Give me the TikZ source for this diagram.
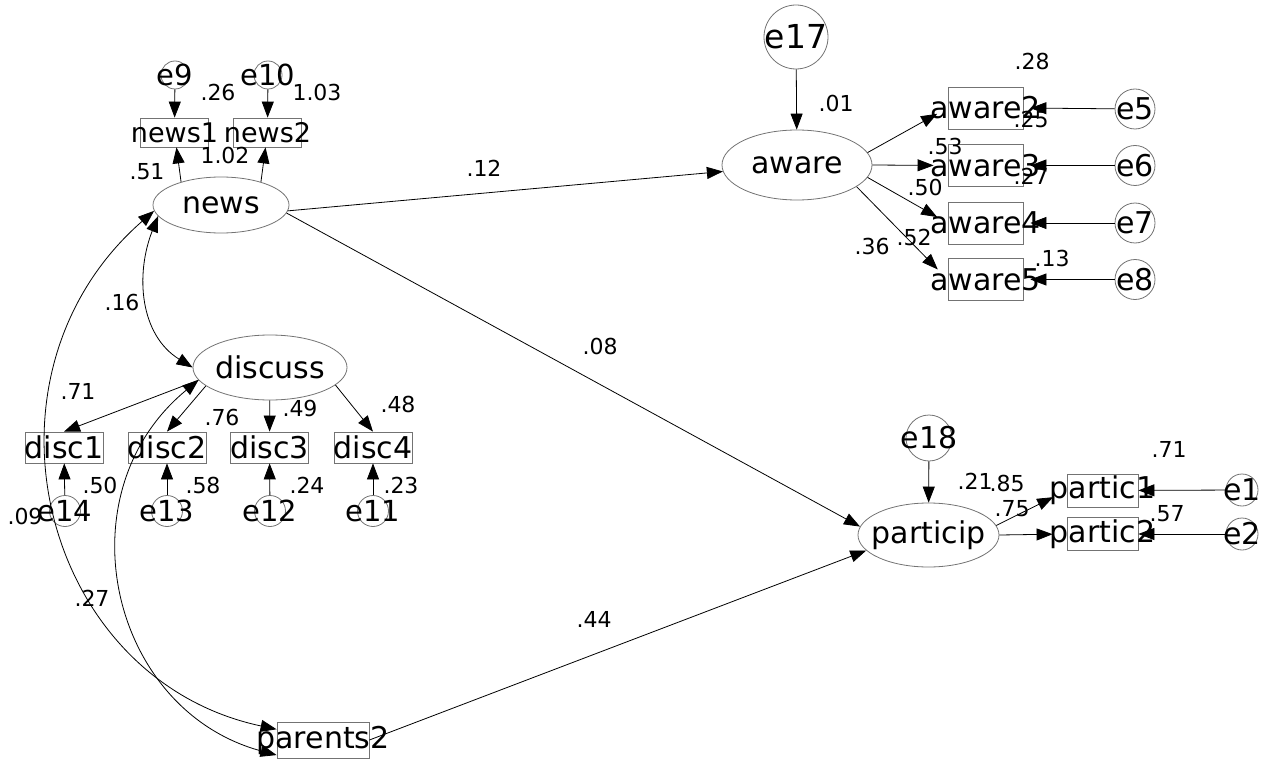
\documentclass[tikz,border=0pt]{standalone}
\usepackage{fontspec}
\setmainfont{DejaVu Sans}
\usetikzlibrary{shapes.geometric,arrows.meta}
\newcommand{\spill}[1]{\makebox[0pt]{#1}}

\begin{document}
\begin{tikzpicture}[x=1pt,y=-1pt,
        lat/.style={ellipse,draw=black!55,line width=0.8pt,inner sep=0pt,font=\fontsize{30}{36}\selectfont},
        obs/.style={rectangle,draw=black!55,line width=0.8pt,inner sep=0pt,font=\fontsize{30}{36}\selectfont},
        err/.style={circle,draw=black!55,line width=0.8pt,inner sep=0pt,font=\fontsize{30}{36}\selectfont},
        est/.style={inner sep=0pt,font=\fontsize{22}{26}\selectfont},
        regpath/.style={-{Triangle[length=16pt,width=12pt]},line width=0.8pt},
        covpath/.style={{Triangle[length=16pt,width=12pt]}-{Triangle[length=16pt,width=12pt]},line width=0.8pt},
        stopshort/.style={shorten >=#1}]

      \useasboundingbox (0,0) rectangle (1269,762);

      % latent variables
      \node[lat,minimum width=136pt,minimum height=56pt] (news)     at (221,205)   {\spill{news}};
      \node[lat,minimum width=150pt,minimum height=70pt] (aware)    at (797,165)   {\spill{aware}};
      \node[lat,minimum width=154pt,minimum height=65pt] (discuss)  at (270,367.5) {\spill{discuss}};
      \node[lat,minimum width=141pt,minimum height=64pt] (particip) at (928.5,535) {\spill{particip}};

      % observed variables
      \node[obs,minimum width=68pt,minimum height=29pt,font=\fontsize{27}{32}\selectfont] (news1) at (174.5,132.5) {\spill{news1}};
      \node[obs,minimum width=68pt,minimum height=29pt,font=\fontsize{27}{32}\selectfont] (news2) at (267.5,132.5) {\spill{news2}};
      \node[obs,minimum width=75pt,minimum height=42pt] (aware2) at (985.5,108)   {\spill{aware2}};
      \node[obs,minimum width=75pt,minimum height=42pt] (aware3) at (985.5,165.5) {\spill{aware3}};
      \node[obs,minimum width=75pt,minimum height=42pt] (aware4) at (985.5,223)   {\spill{aware4}};
      \node[obs,minimum width=75pt,minimum height=42pt] (aware5) at (985.5,279.5) {\spill{aware5}};
      \node[obs,minimum width=78pt,minimum height=31pt] (disc1) at (64,447.5)    {\spill{disc1}};
      \node[obs,minimum width=78pt,minimum height=31pt] (disc2) at (167,447.5)   {\spill{disc2}};
      \node[obs,minimum width=78pt,minimum height=31pt] (disc3) at (269.5,447.5) {\spill{disc3}};
      \node[obs,minimum width=78pt,minimum height=31pt] (disc4) at (373,447.5)   {\spill{disc4}};
      \node[obs,minimum width=71pt,minimum height=33pt] (partic1) at (1102.5,490.5) {\spill{partic1}};
      \node[obs,minimum width=71pt,minimum height=33pt] (partic2) at (1102.5,534)   {\spill{partic2}};
      \node[obs,minimum width=92pt,minimum height=36pt] (parents2) at (323,740) {\spill{parents2}};

      % error terms
      \node[err,minimum size=64pt,font=\fontsize{33}{40}\selectfont] (e17) at (796,37) {\spill{e17}};
      \node[err,minimum size=46pt] (e18) at (929,438) {\spill{e18}};
      \node[err,minimum size=28pt,font=\fontsize{29}{35}\selectfont] (e9)  at (175,75) {\spill{e9}};
      \node[err,minimum size=28pt,font=\fontsize{29}{35}\selectfont] (e10) at (268,75) {\spill{e10}};
      \node[err,minimum size=40pt] (e5) at (1135,109)   {\spill{e5}};
      \node[err,minimum size=40pt] (e6) at (1135,165.5) {\spill{e6}};
      \node[err,minimum size=40pt] (e7) at (1135,223)   {\spill{e7}};
      \node[err,minimum size=40pt] (e8) at (1135,279.5) {\spill{e8}};
      \node[err,minimum size=31pt,font=\fontsize{29}{35}\selectfont] (e14) at (65,511)  {\spill{e14}};
      \node[err,minimum size=31pt,font=\fontsize{29}{35}\selectfont] (e13) at (167,511) {\spill{e13}};
      \node[err,minimum size=31pt,font=\fontsize{29}{35}\selectfont] (e12) at (270,511) {\spill{e12}};
      \node[err,minimum size=31pt,font=\fontsize{29}{35}\selectfont] (e11) at (373,511) {\spill{e11}};
      \node[err,minimum size=32pt] (e1) at (1242,490) {\spill{e1}};
      \node[err,minimum size=32pt] (e2) at (1242,534) {\spill{e2}};

      % news block
      \draw[regpath] (e9) -- (news1);
      \draw[regpath] (e10) -- (news2);
      \draw[regpath] (news.150) -- (news1);
      \draw[regpath] (news.30) -- (news2);

      % aware block
      \draw[regpath] (e17) -- (aware);
      \draw[regpath] (news.355) -- (aware.185);
      \draw[regpath,stopshort=12pt] (aware.10) -- (aware2.west);
      \draw[regpath,stopshort=14pt] (aware.east) -- (aware3.west);
      \draw[regpath,stopshort=12pt] (aware.350) -- (aware4.west);
      \draw[regpath,stopshort=14pt] (aware.340) -- (aware5.west);
      \foreach \i/\j in {5/2,6/3,7/4,8/5}
        \draw[regpath,stopshort=7pt] (e\i) -- (aware\j.east);

      % discuss block
      \draw[covpath] (news.190) .. controls (135,275) and (140,335) .. (discuss.west);
      \draw[regpath] (discuss.190) -- (disc1.north);
      \draw[regpath] (discuss.196) -- (disc2.north);
      \draw[regpath] (discuss) -- (disc3);
      \draw[regpath] (discuss.345) -- (disc4.north);
      \foreach \i/\j in {14/1,13/2,12/3,11/4}
        \draw[regpath] (e\i) -- (disc\j);

      % parents2 and particip
      \draw[covpath] (news.185) .. controls (-34,375) and (40,679) .. (parents2.167);
      \draw[covpath] (discuss.190) .. controls (61,493) and (109,710) .. (parents2.198);
      \draw[regpath] (parents2.east) -- (particip.194);
      \draw[regpath] (news.353) -- (particip.173);
      \draw[regpath] (e18) -- (particip);
      \draw[regpath,stopshort=15pt] (particip.8) -- (partic1.west);
      \draw[regpath,stopshort=14pt] (particip.east) -- (partic2.west);
      \draw[regpath] (e1) -- (partic1);
      \draw[regpath] (e2) -- (partic2);

      % estimates
      \foreach \x/\y/\t [count=\n] in {218/92/.26, 317/92/1.03, 147/172/.51, 225/155/1.02,
          836/103/.01, 1032/61/.28, 1031/119/.25, 945/146/.53, 1031/176/.27, 925/187/.50,
          872/246/.36, 914/237/.52, 1052/258/.13, 484/168/.12, 600/346/.08, 122/302/.16,
          78/391/.71, 222/417/.76, 300/408/.49, 398/404/.48, 100/485/.50, 203/485/.58,
          307/485/.24, 401/485/.23, 25/516/.09, 92/598/.27, 594/619/.44,
          1169/449/.71, 975/481/.21, 1007/483/.85, 1012/509/.75, 1167/514/.57}
        \node[est] (est\n) at (\x,\y) {\t};
\end{tikzpicture}
\end{document}
